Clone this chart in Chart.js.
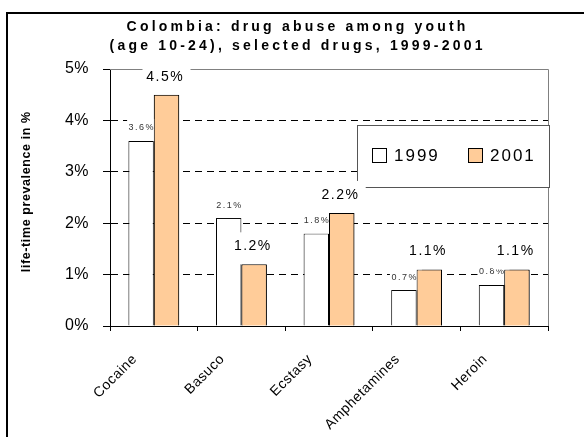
<!DOCTYPE html>
<html>
<head>
<meta charset="utf-8">
<script src="https://cdn.jsdelivr.net/npm/chart.js@4"></script>
<style>
  html, body { margin: 0; padding: 0; background: #fff; }
  #wrap { position: relative; width: 584px; height: 437px; overflow: hidden; }
  #frame { position: absolute; left: 6px; top: 12px; width: 700px; height: 600px; border: 2px solid #000; box-sizing: border-box; }
  canvas { position: absolute; left: 0; top: 0; }
</style>
</head>
<body>
<div id="wrap">
  <div id="frame"></div>
  <canvas id="chart" width="584" height="437"></canvas>
</div>
<script>
// data
const categories = ['Cocaine', 'Basuco', 'Ecstasy', 'Amphetamines', 'Heroin'];
const years = ['1999', '2001'];
const values1999 = [3.6, 2.1, 1.8, 0.7, 0.8];
const values2001 = [4.5, 1.2, 2.2, 1.1, 1.1];
const yTicks = [0, 1, 2, 3, 4, 5];
const titleLines = ['Colombia: drug abuse among youth', '(age 10-24), selected drugs, 1999-2001'];
const yTitle = 'life-time prevalence in %';

const FONT = '"Liberation Sans", Arial, sans-serif';
const fills = ['#ffffff', '#ffcc99'];

Chart.defaults.font.family = FONT;
Chart.defaults.color = '#000';

function spacedText(ctx, text, x, y, font, spacing, align, color) {
    ctx.save();
    ctx.font = font;
    ctx.letterSpacing = spacing + 'px';
    ctx.fillStyle = color || '#000';
    ctx.textAlign = align || 'center';
    ctx.textBaseline = 'middle';
    // trailing spacing shifts centred text, give it back
    const dx = align === 'left' ? 0 : spacing / 2;
    ctx.fillText(text, x + dx, y);
    ctx.restore();
}

function barLabels(chart, i) {
    const ctx = chart.ctx;
    const vals = chart.data.datasets[i].data;
    chart.getDatasetMeta(i).data.forEach((bar, j) => {
        const txt = vals[j].toFixed(1) + '%';
        ctx.fillStyle = '#fff';
        if (i === 0) {
            ctx.fillRect(bar.x - 14, bar.y - 22, 32, 22);
            spacedText(ctx, txt, bar.x, bar.y - 13, '9px ' + FONT, 1.5, 'center', '#333');
        } else {
            ctx.fillRect(bar.x - 24, bar.y - 32, 48, 32);
            spacedText(ctx, txt, bar.x - 2, bar.y - 18, '14px ' + FONT, 1.5, 'center', '#000');
        }
    });
}

const extras = {
    id: 'extras',
    beforeDraw(chart) {
        chart.ctx.letterSpacing = '0.5px';
    },
    beforeDatasetsDraw(chart) {
        const ctx = chart.ctx;
        const a = chart.chartArea;
        ctx.save();
        // grey top and right edge of the plot
        ctx.strokeStyle = '#808080';
        ctx.lineWidth = 1;
        ctx.beginPath();
        ctx.moveTo(a.left, a.top + 0.5);
        ctx.lineTo(a.right + 0.5, a.top + 0.5);
        ctx.lineTo(a.right + 0.5, a.bottom);
        ctx.stroke();

        // legend box
        ctx.fillStyle = '#fff';
        ctx.fillRect(357.5, 125.5, 192, 62);
        ctx.strokeStyle = '#555';
        ctx.strokeRect(357.5, 125.5, 192, 62);
        const keyX = [372.5, 468.5];
        const txtX = [394, 490];
        years.forEach((y, i) => {
            ctx.fillStyle = fills[i];
            ctx.fillRect(keyX[i], 148.5, 14, 14);
            ctx.strokeStyle = '#000';
            ctx.strokeRect(keyX[i], 148.5, 14, 14);
            spacedText(ctx, y, txtX[i], 156, '17px ' + FONT, 2, 'left');
        });
        ctx.restore();
    },
    afterDatasetDraw(chart, args) {
        // 2001 is drawn first by chart.js; once 1999 is down, put its labels,
        // then 2001 bars back on top, then 2001 labels
        if (args.index !== 0) return;
        const ctx = chart.ctx;
        ctx.save();
        barLabels(chart, 0);
        chart.getDatasetMeta(1).data.forEach(el => el.draw(ctx, chart.chartArea));
        barLabels(chart, 1);
        ctx.restore();
    },
    afterDraw(chart) {
        const ctx = chart.ctx;
        spacedText(ctx, titleLines[0], 296, 27, 'bold 14px ' + FONT, 3.2);
        spacedText(ctx, titleLines[1], 296, 46.5, 'bold 14px ' + FONT, 3.2);
        ctx.save();
        ctx.translate(27, 192);
        ctx.rotate(-Math.PI / 2);
        spacedText(ctx, yTitle, 0, 0, 'bold 12.5px ' + FONT, 0.6);
        ctx.restore();
    }
};

new Chart(document.getElementById('chart'), {
    type: 'bar',
    data: {
        labels: categories,
        datasets: [
            { label: years[0], data: values1999, backgroundColor: fills[0] },
            { label: years[1], data: values2001, backgroundColor: fills[1] }
        ]
    },
    options: {
        responsive: false,
        animation: false,
        devicePixelRatio: 1,
        layout: { padding: { top: 69, right: 36, left: 0, bottom: 0 } },
        datasets: {
            bar: {
                borderColor: '#000',
                borderWidth: 1,
                categoryPercentage: 0.58,
                barPercentage: 1
            }
        },
        plugins: {
            legend: { display: false },
            title: { display: false },
            tooltip: { enabled: false }
        },
        scales: {
            x: {
                afterFit: s => { s.height = 111; },
                grid: {
                    offset: true,
                    drawOnChartArea: false,
                    tickLength: 5,
                    tickColor: '#000'
                },
                border: { color: '#000', width: 1 },
                ticks: {
                    font: { size: 14 },
                    color: '#000',
                    minRotation: 45,
                    maxRotation: 45,
                    autoSkip: false,
                    padding: 20,
                    labelOffset: -19
                }
            },
            y: {
                min: yTicks[0],
                max: yTicks[yTicks.length - 1],
                afterFit: s => { s.width = 110; },
                afterBuildTicks: s => { s.ticks = yTicks.map(v => ({ value: v })); },
                grid: {
                    color: c => (c.tick.value > 0 && c.tick.value < 5) ? '#000' : 'rgba(0,0,0,0)',
                    tickColor: '#000',
                    tickBorderDash: [],
                    tickLength: 7
                },
                border: { color: '#000', width: 1, dash: [7, 5] },
                ticks: {
                    font: { size: 16 },
                    color: '#000',
                    padding: 14,
                    callback: v => v + '%'
                }
            }
        }
    },
    plugins: [extras]
});
</script>
</body>
</html>
